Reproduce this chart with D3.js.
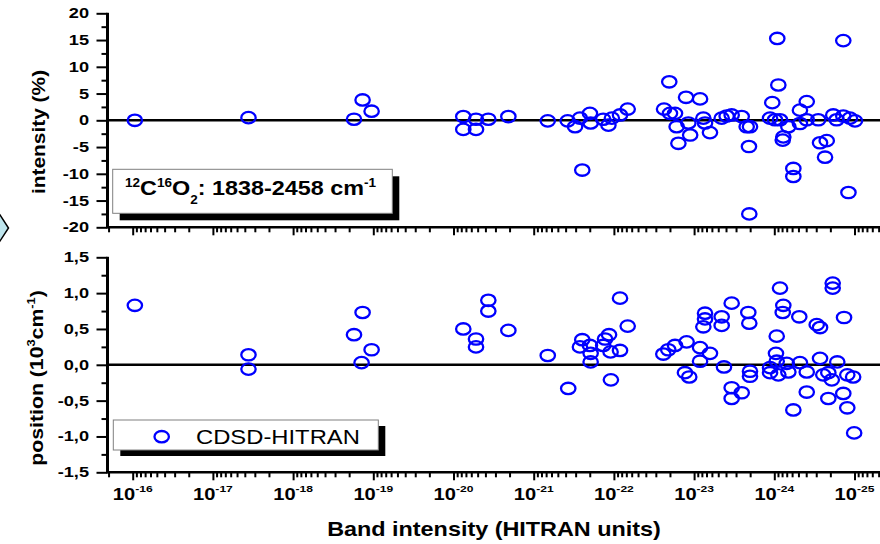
<!DOCTYPE html>
<html>
<head>
<meta charset="utf-8">
<script src="https://cdn.jsdelivr.net/npm/d3@7"></script>
<style>
  html, body { margin: 0; padding: 0; background: #fff; }
  svg { display: block; }
</style>
</head>
<body>
<div class="container"></div>
<script>
const WIDTH = 880,
      HEIGHT = 544,
      FONT = '"Liberation Sans", Arial, sans-serif',
      X_LEFT = 107.5,
      X_RIGHT = 880;

// band intensities (HITRAN units) and deviations, upper panel (intensity, %)
var topBand = [9.4e-17, 3.6e-18, 1.74e-19, 1.36e-19, 1.05e-19,
  7.55e-21, 7.55e-21, 5.24e-21, 5.24e-21, 3.68e-21, 2.07e-21, 6.68e-22, 3.77e-22, 3.05e-22, 2.65e-22,
  2.48e-22, 1.99e-22, 1.95e-22, 1.36e-22, 1.17e-22, 1.06e-22, 8.39e-23, 6.73e-23, 2.04e-23, 2.37e-23,
  2.00e-23, 1.73e-23, 1.65e-23, 1.57e-23, 1.26e-23, 1.18e-23, 1.12e-23, 8.43e-24, 7.67e-24, 7.31e-24,
  6.34e-24, 4.53e-24, 3.93e-24, 3.40e-24, 2.55e-24, 2.21e-24, 2.01e-24, 2.07e-24, 2.05e-24, 9.18e-25,
  8.91e-25, 1.06e-24, 1.13e-24, 9.80e-25, 8.49e-25, 7.72e-25, 7.85e-25, 6.68e-25, 5.79e-25, 5.79e-25,
  4.79e-25, 3.94e-25, 4.79e-25, 3.94e-25, 2.83e-25, 2.69e-25, 2.22e-25, 2.33e-25, 1.84e-25, 1.67e-25,
  1.38e-25, 1.38e-25, 1.19e-25, 1.14e-25, 9.86e-26];
var topDev = [0.0, 0.5, 0.2, 3.8, 1.7,
  0.7, -1.7, 0.2, -1.7, 0.2, 0.7, -0.1, -0.1, -1.2, 0.4,
  -9.3, 1.3, -0.5, 0.2, -0.9, 0.4, 1.0, 2.1, 7.2, 2.1,
  1.3, 1.3, -1.2, -4.3, 4.3, -0.5, -2.75, 4.0, 0.4, -0.5,
  -2.3, 0.4, 0.8, 1.0, 0.7, -1.2, -1.2, -4.9, -17.5, 15.3,
  6.6, 3.3, 0.4, 0.1, 0.1, -3.1, -3.7, -1.2, -9.0, -10.5,
  1.9, 3.5, -0.6, 0.1, 0.1, -4.2, -3.8, -6.9, 1.0, 0.1,
  0.8, 14.9, -13.5, 0.4, -0.1];

// lower panel (position, 10^-3 cm-1)
var botBand = [9.4e-17, 3.6e-18, 3.6e-18, 1.74e-19, 1.36e-19, 1.40e-19, 1.05e-19,
  7.55e-21, 5.24e-21, 5.24e-21, 3.68e-21, 3.68e-21, 2.07e-21, 6.68e-22, 3.71e-22, 2.65e-22, 2.48e-22,
  1.99e-22, 1.95e-22, 1.95e-22, 1.36e-22, 1.29e-22, 1.15e-22, 1.10e-22, 1.09e-22, 8.39e-23, 8.39e-23,
  6.73e-23, 2.42e-23, 2.10e-23, 1.73e-23, 1.24e-23, 1.30e-23, 1.15e-23, 8.43e-24, 8.43e-24, 7.67e-24,
  7.31e-24, 7.31e-24, 6.34e-24, 4.53e-24, 4.53e-24, 4.24e-24, 3.40e-24, 3.40e-24, 3.40e-24, 2.55e-24,
  2.11e-24, 2.05e-24, 2.01e-24, 2.01e-24, 8.49e-25, 7.72e-25, 7.85e-25, 9.33e-25, 9.53e-25, 1.13e-24,
  1.13e-24, 9.33e-25, 8.91e-25, 7.00e-25, 6.68e-25, 5.79e-25, 4.88e-25, 4.79e-25, 3.94e-25, 3.94e-25,
  2.96e-25, 2.69e-25, 2.69e-25, 2.45e-25, 2.12e-25, 1.92e-25, 2.12e-25, 1.87e-25, 1.87e-25, 1.64e-25,
  1.35e-25, 1.38e-25, 1.23e-25, 1.23e-25, 1.04e-25, 1.01e-25];
var botDev = [0.83, 0.14, -0.06, 0.42, 0.73, 0.03, 0.21,
  0.50, 0.36, 0.25, 0.90, 0.75, 0.48, 0.13, -0.33, 0.25, 0.35,
  0.27, 0.16, 0.04, 0.27, 0.36, 0.42, 0.18, -0.21, 0.20, 0.93,
  0.54, 0.15, 0.21, 0.27, 0.32, -0.11, -0.17, 0.24, 0.05, 0.53,
  0.72, 0.64, 0.16, 0.67, 0.55, -0.03, 0.86, -0.32, -0.47, -0.39,
  0.73, 0.58, -0.09, -0.16, 1.07, 0.83, 0.73, 0.40, 0.16, -0.04,
  -0.11, 0.05, -0.14, 0.02, -0.10, -0.63, 0.67, 0.03, -0.10, -0.38,
  0.56, 0.52, 0.09, -0.14, -0.11, -0.21, -0.47, 1.14, 1.07, 0.04,
  0.66, -0.40, -0.14, -0.60, -0.17, -0.95];

var topTicks = [-20, -15, -10, -5, 0, 5, 10, 15, 20],
    topMinor = [-17.5, -12.5, -7.5, -2.5, 2.5, 7.5, 12.5, 17.5],
    botTicks = [-1.5, -1.0, -0.5, 0, 0.5, 1.0, 1.5],
    botMinor = [-1.25, -0.75, -0.25, 0.25, 0.75, 1.25],
    decades = [-16, -17, -18, -19, -20, -21, -22, -23, -24, -25];

var x = d3.scaleLog().domain([1e-16, 1e-25]).range([132.7, 854.5]);
var yTop = d3.scaleLinear().domain([-20, 20]).range([227.3, 13.3]);
var yBot = d3.scaleLinear().domain([-1.5, 1.5]).range([472.3, 257.3]);

var svg = d3.select('.container').append('svg')
    .attr('width', WIDTH).attr('height', HEIGHT);

// text with super/subscripts, stretched along its baseline by k
function richText(parent, px, py, parts, o) {
  var t = parent.append('text')
      .attr('transform', 'translate(' + px + ',' + py + ') rotate(' + (o.rotate || 0) + ') scale(' + (o.k || 1) + ',1)')
      .attr('font-family', FONT).attr('font-size', o.size)
      .attr('font-weight', o.weight || 'bold')
      .attr('text-anchor', o.anchor || 'start').attr('fill', '#000');
  var shift = 0;
  parts.forEach(function(p) {
    var kind = p[1];
    var target = kind === 'sup' ? -o.size * (o.raise || 0.42) : kind === 'sub' ? o.size * 0.45 : 0;
    t.append('tspan')
        .attr('dy', target - shift)
        .attr('font-size', kind ? o.size * (o.small || 0.6) : o.size)
        .text(p[0]);
    shift = target;
  });
  return t;
}

// little diamond cut at the left edge
svg.append('polygon')
    .attr('points', '0,215 8.5,228 0,241 -8.5,228')
    .attr('fill', '#bfe6ee').attr('stroke', '#000').attr('stroke-width', 1.5);

// log ticks: every m*10^e inside the visible span
var minorVals = [];
for (var e = -26; e <= -15; e++) {
  for (var m = 2; m <= 9; m++) {
    var v = m * Math.pow(10, e);
    if (x(v) >= X_LEFT && x(v) <= X_RIGHT) minorVals.push(v);
  }
}
var majorVals = decades.map(function(d) { return Math.pow(10, d); });

function drawPanel(y, ticks, minor, fmt, band, dev) {
  var g = svg.append('g');

  // zero line
  g.append('line')
      .attr('x1', X_LEFT).attr('x2', X_RIGHT)
      .attr('y1', y(0)).attr('y2', y(0))
      .attr('stroke', '#000').attr('stroke-width', 2.5);

  // x axis (ticks only, line drawn by hand so it spans the whole width)
  var xb = y.range()[0];
  var xMinor = g.append('g').attr('transform', 'translate(0,' + xb + ')')
      .call(d3.axisBottom(x).tickValues(minorVals).tickSize(5).tickFormat(''));
  var xMajor = g.append('g').attr('transform', 'translate(0,' + xb + ')')
      .call(d3.axisBottom(x).tickValues(majorVals).tickSize(8).tickFormat(''));
  [xMinor, xMajor].forEach(function(a) {
    a.select('.domain').remove();
    a.selectAll('.tick line').attr('stroke-width', 2);
  });
  g.append('line')
      .attr('x1', X_LEFT).attr('x2', X_RIGHT)
      .attr('y1', xb).attr('y2', xb)
      .attr('stroke', '#000').attr('stroke-width', 2.5);

  // y axis
  var yMinor = g.append('g').attr('transform', 'translate(' + X_LEFT + ',0)')
      .call(d3.axisLeft(y).tickValues(minor).tickSize(6).tickFormat(''));
  var yMajor = g.append('g').attr('transform', 'translate(' + X_LEFT + ',0)')
      .call(d3.axisLeft(y).tickValues(ticks).tickSize(11).tickFormat(fmt));
  [yMinor, yMajor].forEach(function(a) {
    a.select('.domain').remove();
    a.selectAll('.tick line').attr('stroke-width', 2);
  });
  yMajor.attr('font-family', FONT).attr('font-size', 14).attr('font-weight', 'bold');
  yMajor.selectAll('.tick text')
      .attr('x', null)
      .attr('transform', 'translate(-18.5,0) scale(1.3,1)');
  g.append('line')
      .attr('x1', X_LEFT).attr('x2', X_LEFT)
      .attr('y1', y.range()[1] - 0.5).attr('y2', xb + 1)
      .attr('stroke', '#000').attr('stroke-width', 3);

  // markers
  g.append('g').selectAll('ellipse')
      .data(band.map(function(b, i) { return [b, dev[i]]; }))
    .enter().append('ellipse')
      .attr('cx', function(d) { return x(d[0]); })
      .attr('cy', function(d) { return y(d[1]); })
      .attr('rx', 7.2).attr('ry', 5.7)
      .attr('fill', 'none').attr('stroke', '#0000ff').attr('stroke-width', 2.3);
  return g;
}

drawPanel(yTop, topTicks, topMinor, function(d) { return String(d); }, topBand, topDev);
drawPanel(yBot, botTicks, botMinor, function(d) { return d.toFixed(1).replace('.', ','); }, botBand, botDev);

// decade labels under the lower axis
decades.forEach(function(d) {
  richText(svg, x(Math.pow(10, d)), 500, [['10'], [String(d), 'sup']],
    { size: 16.5, k: 1.22, anchor: 'middle', small: 0.6, raise: 0.5 });
});

// axis titles
richText(svg, 494, 536, [['Band intensity (HITRAN units)']], { size: 19.5, k: 1.2, anchor: 'middle' });
richText(svg, 45, 132, [['intensity (%)']], { size: 19, k: 1.1, anchor: 'middle', rotate: -90 });
richText(svg, 42.5, 378, [['position (10'], ['3', 'sup'], ['cm'], ['-1', 'sup'], [')']],
  { size: 19, k: 1.12, anchor: 'middle', rotate: -90 });

// legend boxes with drop shadow
function box(x0, y0, w, h, dx, dy) {
  svg.append('rect').attr('x', x0 + dx).attr('y', y0 + dy).attr('width', w).attr('height', h).attr('fill', '#000');
  svg.append('rect').attr('x', x0).attr('y', y0).attr('width', w).attr('height', h)
      .attr('fill', '#fff').attr('stroke', '#808080').attr('stroke-width', 1);
}

box(112.7, 169.3, 279.6, 44, 7, 7);
richText(svg, 125, 195, [['12', 'sup'], ['C'], ['16', 'sup'], ['O'], ['2', 'sub'], [': 1838-2458 cm'], ['-1', 'sup']],
  { size: 20.5, k: 1.14, small: 0.58, raise: 0.4 });

box(113.3, 420, 265, 30, 7, 6);
svg.append('ellipse')
    .attr('cx', 161.7).attr('cy', 436.7).attr('rx', 7.2).attr('ry', 5.7)
    .attr('fill', 'none').attr('stroke', '#0000ff').attr('stroke-width', 2.3);
richText(svg, 196, 444, [['CDSD-HITRAN']], { size: 19.5, k: 1.22, weight: 'normal' });
</script>
</body>
</html>
